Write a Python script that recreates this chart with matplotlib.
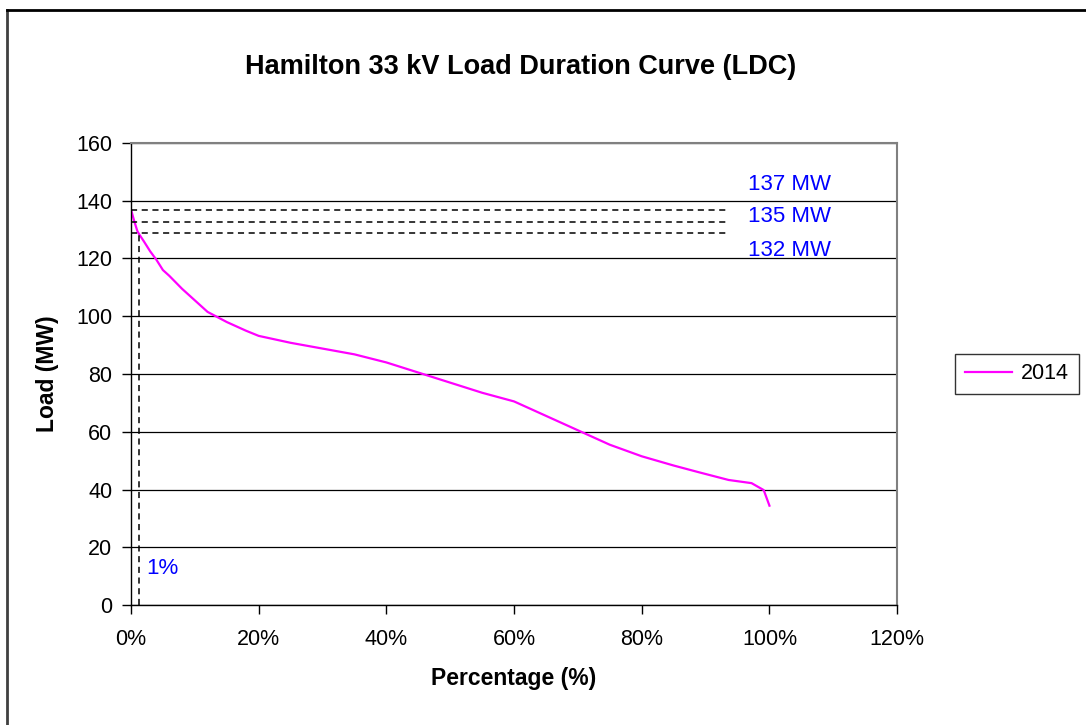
import matplotlib
matplotlib.use('Agg')
from matplotlib import pyplot as plt
from matplotlib.lines import Line2D

plt.rcParams['font.family'] = ['Liberation Sans', 'DejaVu Sans']

# load duration curve
pct = [0, 0.5, 1.0, 1.25, 2, 3, 4, 5, 6, 8, 10, 12, 15, 18, 20, 25, 30, 35, 40,
       45, 50, 55, 60, 65, 70, 75, 80, 85, 88.9, 93.6, 97.2, 99.1, 100]
load = [137, 133, 129.5, 128.5, 126, 122.5, 119.5, 116, 114, 109.5, 105.5, 101.5, 98,
        95, 93.2, 90.8, 88.8, 86.8, 84, 80.5, 77, 73.5, 70.5, 65.5, 60.5, 55.5, 51.5,
        48.3, 46, 43.3, 42.2, 39.8, 34.4]

# reference levels and markers
level_vals = [136.8, 132.7, 128.9]
level_text = ['137 MW', '135 MW', '132 MW']
level_text_y = [145.6, 134.4, 122.9]
level_end = 93.3
pct_mark = 1.25

fig = plt.figure(figsize=(10.86, 7.25), dpi=100)
ax = fig.add_axes([0.1206, 0.1655, 0.7055, 0.6373])

ax.plot(pct, load, c='#ff00ff', lw=1.6, label='2014')
for v in level_vals:
    ax.plot([0, level_end], [v, v], c='black', ls=(0, (4, 3)), lw=1.1)
ax.plot([pct_mark, pct_mark], [0, level_vals[-1]], c='black', ls=(0, (4, 3)), lw=1.1)

for t, y in zip(level_text, level_text_y):
    ax.text(103.2, y, t, color='#0000ff', fontsize=16, va='center', ha='center')
ax.text(2.4, 12.8, '1%', color='#0000ff', fontsize=16, va='center')

ax.set_xlim(0, 120)
ax.set_ylim(0, 160)
ax.set_xticks(range(0, 121, 20))
ax.set_xticklabels([f'{v}%' for v in range(0, 121, 20)])
ax.set_yticks(range(0, 161, 20))
ax.grid(axis='y', color='black', lw=0.9)
ax.set_axisbelow(True)
for s in ['top', 'right']:
    ax.spines[s].set_color('#808080')
    ax.spines[s].set_linewidth(1.5)
for s in ['left', 'bottom']:
    ax.spines[s].set_linewidth(1.0)
ax.tick_params(axis='both', labelsize=15.5, length=6.5, width=1, direction='out')
ax.tick_params(axis='y', pad=7)
ax.tick_params(axis='x', pad=11)

ax.set_xlabel('Percentage (%)', fontsize=16.5, fontweight='bold', labelpad=12)
ax.set_ylabel('Load (MW)', fontsize=16.5, fontweight='bold', labelpad=12)
fig.text(0.479, 0.907, 'Hamilton 33 kV Load Duration Curve (LDC)', fontsize=19.5,
         fontweight='bold', ha='center', va='center')

leg = ax.legend(loc='center left', bbox_to_anchor=(1.076, 0.5), fontsize=15.5,
                frameon=True, fancybox=False, edgecolor='black', handlelength=2.2,
                handletextpad=0.4, borderpad=0.45, borderaxespad=0)
leg.get_frame().set_linewidth(1.0)

# outer chart border
fig.add_artist(Line2D([0.0065, 0.0065], [0, 0.986], color='#404040', lw=2, transform=fig.transFigure))
fig.add_artist(Line2D([0.0065, 1], [0.986, 0.986], color='black', lw=2, transform=fig.transFigure))

fig.savefig('out.png', dpi=100, facecolor='white')
